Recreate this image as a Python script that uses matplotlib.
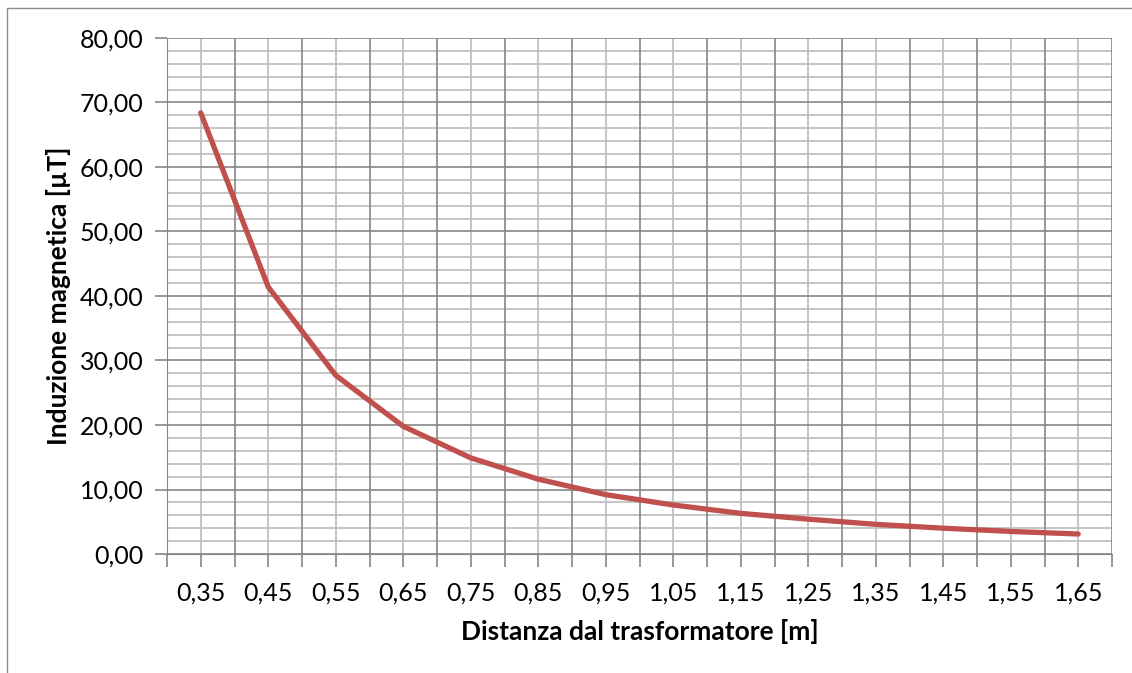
import matplotlib
matplotlib.use("Agg")
import matplotlib.pyplot as plt
from matplotlib.ticker import FixedLocator, NullFormatter
from matplotlib.patches import Rectangle

distances = [0.35, 0.45, 0.55, 0.65, 0.75, 0.85, 0.95, 1.05, 1.15, 1.25, 1.35, 1.45, 1.55, 1.65]
induction = [68.4, 41.4, 27.7, 19.8, 14.9, 11.6, 9.2, 7.6, 6.3, 5.4, 4.6, 4.0, 3.5, 3.1]
x_labels = ["0,35", "0,45", "0,55", "0,65", "0,75", "0,85", "0,95", "1,05", "1,15", "1,25", "1,35", "1,45", "1,55", "1,65"]
y_ticks = [0, 10, 20, 30, 40, 50, 60, 70, 80]
y_labels = ["0,00", "10,00", "20,00", "30,00", "40,00", "50,00", "60,00", "70,00", "80,00"]
x_title = "Distanza dal trasformatore [m]"
y_title = "Induzione magnetica [µT]"

plt.rcParams['font.family'] = ['Lato', 'DejaVu Sans']

W, H = 1132, 673
fig = plt.figure(figsize=(W / 100, H / 100), dpi=100)
fig.patch.set_facecolor("white")

# outer chart frame
fig.patches.append(Rectangle((7 / W, -0.01), 1.02, 1 - 8 / H + 0.01, transform=fig.transFigure,
                             fill=False, edgecolor="#8C8C8C", linewidth=1.0))

ax = fig.add_axes([167 / W, 1 - 554 / H, (1112 - 167) / W, (554 - 38) / H])
ax.set_xlim(0.30, 1.70)
ax.set_ylim(0, 80)

dark = "#868686"
light = "#C0C0C0"

# minor gridlines
for v in [0.35 + 0.1 * i for i in range(14)]:
    ax.axvline(v, color=light, linewidth=1.3, zorder=1)
for v in range(0, 81, 2):
    if v % 10:
        ax.axhline(v, color=light, linewidth=1.3, zorder=1)
# major gridlines
for v in [0.30 + 0.1 * i for i in range(15)]:
    ax.axvline(v, color=dark, linewidth=1.2, zorder=2)
for v in y_ticks:
    ax.axhline(v, color=dark, linewidth=1.2, zorder=2)

ax.plot(distances, induction, color="#C0504D", linewidth=3.8, solid_capstyle="round",
        solid_joinstyle="round", zorder=5)

for s in ax.spines.values():
    s.set_visible(False)
ax.spines['left'].set_visible(True)
ax.spines['bottom'].set_visible(True)
ax.spines['left'].set_color(dark)
ax.spines['bottom'].set_color(dark)

ax.set_xticks(distances)
ax.set_xticklabels(x_labels)
ax.xaxis.set_minor_locator(FixedLocator([0.30 + 0.1 * i for i in range(15)]))
ax.xaxis.set_minor_formatter(NullFormatter())
ax.set_yticks(y_ticks)
ax.set_yticklabels(y_labels)
ax.tick_params(axis='x', which='both', length=9, width=1.2, color=dark, labelsize=18, pad=11)
ax.tick_params(axis='y', which='major', length=9, width=1.2, color=dark, labelsize=18, pad=8)
ax.yaxis.set_minor_locator(plt.NullLocator())

ax.set_xlabel(x_title, fontsize=19, fontweight='bold', labelpad=10)
ax.set_ylabel(y_title, fontsize=19, fontweight='bold', labelpad=6)

fig.savefig("out.png", dpi=100)
